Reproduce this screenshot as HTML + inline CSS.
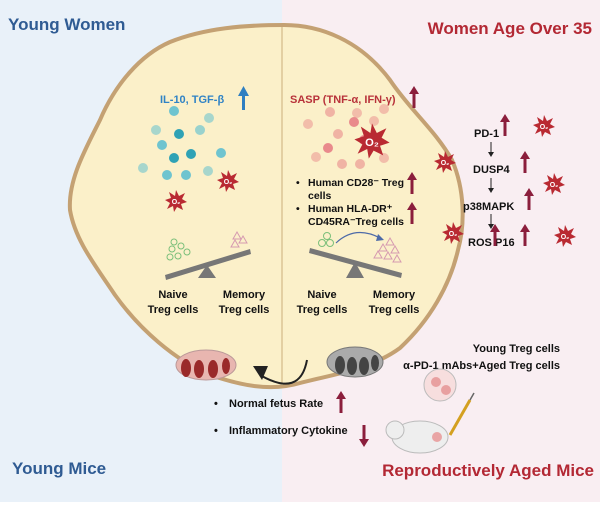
<!DOCTYPE html>
<html><head><style>
body{margin:0;width:600px;height:502px;overflow:hidden;font-family:"Liberation Sans",sans-serif}
svg text{font-family:"Liberation Sans",sans-serif;font-weight:bold}
</style></head><body>
<svg width="600" height="502" viewBox="0 0 600 502" xmlns="http://www.w3.org/2000/svg">
<defs>
<g id="ros"><polygon points="0,-11 3,-5 9,-8 6,-2 11,1 5,3 7,9 1,6 -2,11 -3,5 -9,8 -6,2 -11,-1 -5,-3 -7,-9 -1,-5" fill="#b92a32"/><text x="0" y="3" font-size="7" fill="#fff" text-anchor="middle">O₂</text></g>
<g id="up"><rect x="-1.5" y="-8" width="3" height="16" fill="#8b1e3c"/><polygon points="-5,-6 0,-14 5,-6" fill="#8b1e3c"/></g>
</defs>
<rect width="282" height="502" fill="#e9f1f9"/>
<rect x="282" width="318" height="502" fill="#f9eef2"/>
<path d="M284,25 C320,25 360,40 390,80 C410,110 435,130 452,160 C465,190 465,225 458,250 C450,285 430,320 400,348 C370,370 330,375 300,383 C270,392 240,385 210,375 C175,360 140,330 115,295 C95,265 75,240 70,210 C68,180 85,150 100,120 C115,85 140,55 170,42 C205,28 245,25 284,25 Z" fill="#fbf0c9" stroke="#c4a173" stroke-width="4"/>
<line x1="282" y1="27" x2="282" y2="385" stroke="#e3cfa2" stroke-width="2"/>
<text x="8" y="30" font-size="17" fill="#2f5b93">Young Women</text>
<text x="592" y="34" font-size="17" fill="#b32834" text-anchor="end">Women Age Over 35</text>
<text x="12" y="474" font-size="17" fill="#2f5b93">Young Mice</text>
<text x="594" y="476" font-size="17" fill="#b32834" text-anchor="end">Reproductively Aged Mice</text>
<text x="160" y="103" font-size="11" fill="#3083c5">IL-10, TGF-β</text>
<rect x="242" y="94" width="3" height="16" fill="#2f7fc1"/><polygon points="238,96 243.5,86 249,96" fill="#2f7fc1"/>
<text x="290" y="103" font-size="11" fill="#b8323a">SASP (TNF-α, IFN-γ)</text>
<use href="#up" x="414" y="100"/>
<g fill="#6fc4cf"><circle cx="174" cy="111" r="5"/><circle cx="209" cy="118" r="5" opacity=".6"/><circle cx="156" cy="130" r="5" opacity=".6"/><circle cx="179" cy="134" r="5" fill="#2fa2b5"/><circle cx="200" cy="130" r="5" opacity=".7"/><circle cx="162" cy="145" r="5"/><circle cx="174" cy="158" r="5" fill="#2fa2b5"/><circle cx="191" cy="154" r="5" fill="#2fa2b5"/><circle cx="221" cy="153" r="5"/><circle cx="143" cy="168" r="5" opacity=".6"/><circle cx="167" cy="175" r="5"/><circle cx="186" cy="175" r="5"/><circle cx="208" cy="171" r="5" opacity=".6"/></g>
<g fill="#e98a8c"><circle cx="330" cy="112" r="5" opacity=".6"/><circle cx="357" cy="113" r="5" opacity=".5"/><circle cx="384" cy="109" r="5" opacity=".5"/><circle cx="308" cy="124" r="5" opacity=".5"/><circle cx="354" cy="122" r="5"/><circle cx="374" cy="121" r="5" opacity=".5"/><circle cx="338" cy="134" r="5" opacity=".6"/><circle cx="328" cy="148" r="5"/><circle cx="364" cy="140" r="5"/><circle cx="316" cy="157" r="5" opacity=".5"/><circle cx="342" cy="164" r="5" opacity=".6"/><circle cx="360" cy="164" r="5" opacity=".6"/><circle cx="384" cy="158" r="5" opacity=".5"/></g>
<use href="#ros" x="228" y="181"/><use href="#ros" x="176" y="201"/>
<g transform="translate(372,141) scale(1.6)"><use href="#ros"/></g>
<use href="#ros" x="445" y="162"/><use href="#ros" x="544" y="126"/><use href="#ros" x="554" y="184"/><use href="#ros" x="453" y="233"/><use href="#ros" x="565" y="236"/>
<g font-size="10.5" fill="#111">
<text x="296" y="186">•</text><text x="308" y="186">Human CD28⁻ Treg</text><text x="308" y="199">cells</text>
<text x="296" y="212">•</text><text x="308" y="212">Human HLA-DR⁺</text><text x="308" y="225">CD45RA⁻Treg cells</text>
</g>
<use href="#up" x="412" y="186"/><use href="#up" x="412" y="216"/>
<g font-size="11" fill="#111"><text x="474" y="137">PD-1</text><text x="473" y="173">DUSP4</text><text x="463" y="210">p38MAPK</text><text x="468" y="246">ROS</text><text x="495" y="246">P16</text></g>
<use href="#up" x="505" y="128"/><use href="#up" x="525" y="165"/><use href="#up" x="529" y="202"/><use href="#up" x="495" y="238"/><use href="#up" x="525" y="238"/>
<g stroke="#222" stroke-width="1"><line x1="491" y1="142" x2="491" y2="154"/><line x1="491" y1="178" x2="491" y2="190"/><line x1="491" y1="214" x2="491" y2="226"/></g>
<g fill="#222"><polygon points="488,152 491,157 494,152"/><polygon points="488,188 491,193 494,188"/><polygon points="488,224 491,229 494,224"/></g>
<!-- seesaws -->
<g fill="#777"><polygon points="165,275 250,249 251,254 166,280"/><polygon points="207,265 198,278 216,278"/>
<polygon points="310,248 402,273 401,278 309,253"/><polygon points="355,262 346,278 364,278"/></g>
<g fill="none" stroke="#7bbf7a" stroke-width="1"><circle cx="174" cy="242" r="3"/><circle cx="181" cy="246" r="3"/><circle cx="172" cy="249" r="3"/><circle cx="187" cy="252" r="3"/><circle cx="170" cy="257" r="3"/><circle cx="178" cy="256" r="3"/>
<circle cx="327" cy="236" r="3.5"/><circle cx="330" cy="243" r="3.5"/><circle cx="322" cy="243" r="3.5"/></g>
<g fill="none" stroke="#d69ab0" stroke-width="1"><polygon points="237,232 241,239 233,239"/><polygon points="243,236 247,243 239,243"/><polygon points="235,240 239,247 231,247"/>
<polygon points="390,238 394,245 386,245"/><polygon points="383,244 387,251 379,251"/><polygon points="395,246 399,253 391,253"/><polygon points="378,251 382,258 374,258"/><polygon points="388,252 392,259 384,259"/><polygon points="397,255 401,262 393,262"/></g>
<path d="M336,243 Q355,225 380,238" fill="none" stroke="#4d6aa8" stroke-width="1.2"/><polygon points="378,234 384,240 376,241" fill="#4d6aa8"/>
<g font-size="11" fill="#111" text-anchor="middle"><text x="173" y="298">Naive</text><text x="173" y="313">Treg cells</text><text x="244" y="298">Memory</text><text x="244" y="313">Treg cells</text>
<text x="322" y="298">Naive</text><text x="322" y="313">Treg cells</text><text x="394" y="298">Memory</text><text x="394" y="313">Treg cells</text></g>
<!-- tissue -->
<g><ellipse cx="206" cy="365" rx="30" ry="15" fill="#e8b6b0" stroke="#b99"/><ellipse cx="186" cy="368" rx="5" ry="9" fill="#9a2a2a"/><ellipse cx="199" cy="369" rx="5" ry="9" fill="#9a2a2a"/><ellipse cx="213" cy="369" rx="5" ry="9" fill="#9a2a2a"/><ellipse cx="226" cy="366" rx="4" ry="8" fill="#9a2a2a"/>
<ellipse cx="355" cy="362" rx="28" ry="15" fill="#aaa" stroke="#777"/><ellipse cx="340" cy="365" rx="5" ry="9" fill="#444"/><ellipse cx="352" cy="366" rx="5" ry="9" fill="#444"/><ellipse cx="364" cy="366" rx="5" ry="9" fill="#444"/><ellipse cx="375" cy="363" rx="4" ry="8" fill="#444"/></g>
<path d="M307,360 Q300,398 260,375" fill="none" stroke="#222" stroke-width="2"/><polygon points="253,366 268,366 262,380" fill="#222"/>
<g font-size="11" fill="#111"><text x="214" y="407">•</text><text x="229" y="407">Normal fetus Rate</text><text x="214" y="434">•</text><text x="229" y="434">Inflammatory Cytokine</text>
<text x="560" y="352" text-anchor="end">Young Treg cells</text><text x="560" y="369" text-anchor="end">α-PD-1 mAbs+Aged Treg cells</text></g>
<use href="#up" x="341" y="405"/>
<g transform="translate(364,433) rotate(180)"><use href="#up"/></g>
<circle cx="440" cy="385" r="16" fill="#f7dede" stroke="#bbb"/><circle cx="436" cy="382" r="5" fill="#e8a0a0"/><circle cx="446" cy="390" r="5" fill="#e8a0a0"/>
<ellipse cx="420" cy="437" rx="28" ry="16" fill="#eee" stroke="#bbb"/><circle cx="395" cy="430" r="9" fill="#eee" stroke="#bbb"/><circle cx="437" cy="437" r="5" fill="#e9a5a5"/>
<line x1="450" y1="435" x2="470" y2="400" stroke="#d4a020" stroke-width="3"/><line x1="470" y1="400" x2="474" y2="393" stroke="#666" stroke-width="1.5"/>
</svg>
</body></html>
